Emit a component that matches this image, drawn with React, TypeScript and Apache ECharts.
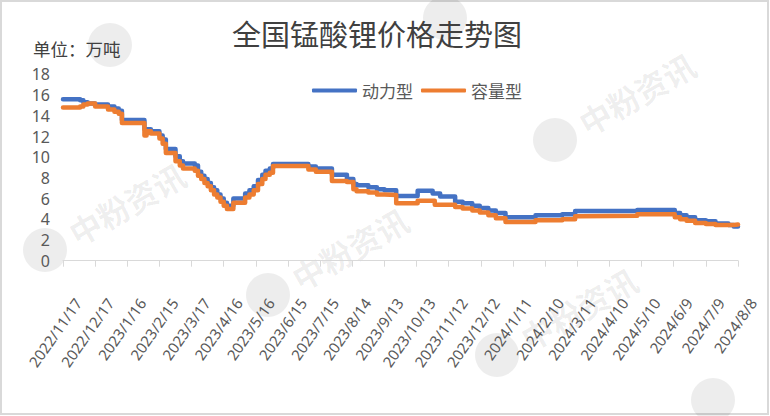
import React, { useEffect, useRef } from 'react';
import * as echarts from 'echarts';

const chartTitle = '全国锰酸锂价格走势图';
const unitLabel = '单位：万吨';
const seriesNames = ['动力型', '容量型'];

const tickLabels = [
  '2022/11/17', '2022/12/17', '2023/1/16', '2023/2/15', '2023/3/17', '2023/4/16',
  '2023/5/16', '2023/6/15', '2023/7/15', '2023/8/14', '2023/9/13', '2023/10/13',
  '2023/11/12', '2023/12/12', '2024/1/11', '2024/2/10', '2024/3/11', '2024/4/10',
  '2024/5/10', '2024/6/9', '2024/7/9', '2024/8/8',
];

// dates on which the price changed (value holds until the next date)
const changeDates = [
  '2022-11-17', '2022-12-03', '2022-12-06', '2022-12-10', '2022-12-17', '2022-12-29',
  '2023-01-04', '2023-01-08', '2023-01-11', '2023-02-01', '2023-02-03', '2023-02-07',
  '2023-02-15', '2023-02-18', '2023-02-21', '2023-03-02', '2023-03-06', '2023-03-09',
  '2023-03-20', '2023-03-23', '2023-03-26', '2023-03-29', '2023-04-01', '2023-04-04',
  '2023-04-07', '2023-04-10', '2023-04-13', '2023-04-16', '2023-04-19', '2023-04-25',
  '2023-05-06', '2023-05-10', '2023-05-14', '2023-05-18', '2023-05-22', '2023-05-25',
  '2023-05-29', '2023-06-01', '2023-07-04', '2023-07-11', '2023-07-26', '2023-08-09',
  '2023-08-15', '2023-08-18', '2023-08-29', '2023-09-06', '2023-09-13', '2023-09-24',
  '2023-10-14', '2023-10-28', '2023-10-30', '2023-11-04', '2023-11-18', '2023-11-25',
  '2023-12-04', '2023-12-11', '2023-12-19', '2023-12-26', '2024-01-04', '2024-02-01',
  '2024-02-26', '2024-03-09', '2024-03-14', '2024-05-06', '2024-06-06', '2024-06-10',
  '2024-06-15', '2024-06-21', '2024-06-29', '2024-07-09', '2024-07-18', '2024-07-30',
  '2024-08-04', '2024-08-08',
];

// 动力型 (万元/吨)
const powerValues = [
  15.6, 15.5, 15.3, 15.2, 15.1, 14.9,
  14.7, 14.5, 13.6, 12.7, 12.7, 12.5,
  12.1, 11.7, 10.8, 10.1, 9.6, 9.4,
  9.2, 8.6, 8.2, 7.9, 7.5, 7.1,
  6.8, 6.4, 6.0, 5.6, 5.3, 6.0,
  6.5, 6.8, 7.2, 7.8, 8.3, 8.7,
  8.9, 9.35, 9.1, 8.9, 8.3, 7.9,
  7.4, 7.3, 7.1, 6.9, 6.8, 6.25,
  6.75, 6.5, 6.5, 6.2, 5.7, 5.55,
  5.3, 5.1, 4.85, 4.6, 4.2, 4.4,
  4.5, 4.8, 4.8, 4.9, 4.9, 4.6,
  4.4, 4.2, 3.9, 3.8, 3.6, 3.45,
  3.3, 3.3,
];

// 容量型 (万元/吨)
const capacityValues = [
  14.8, 14.9, 15.1, 15.2, 14.9, 14.6,
  14.4, 14.2, 13.3, 12.1, 12.5, 12.3,
  11.8, 11.3, 10.4, 9.6, 9.2, 8.9,
  8.7, 8.2, 7.9, 7.5, 7.2, 6.8,
  6.4, 6.1, 5.7, 5.3, 5.0, 5.6,
  6.1, 6.4, 6.8, 7.4, 7.9, 8.3,
  8.5, 9.15, 8.8, 8.6, 7.7, 7.6,
  6.9, 6.7, 6.6, 6.4, 6.35, 5.55,
  5.8, 5.8, 5.4, 5.4, 5.2, 5.05,
  4.85, 4.65, 4.4, 4.1, 3.75, 3.9,
  4.0, 4.3, 4.35, 4.5, 4.5, 4.2,
  4.0, 3.85, 3.65, 3.55, 3.45, 3.45,
  3.5, 3.5,
];

const startDate = Date.UTC(2022, 10, 17);
const dayIndex = (s: string) => {
  const [y, m, d] = s.split('-').map(Number);
  return Math.round((Date.UTC(y, m - 1, d) - startDate) / 86400000);
};

// watermark logos: those with text fully inside the picture carry the text
const watermarks = [
  { x: 110, y: 45, text: false },
  { x: 445, y: 18, text: false },
  { x: 45, y: 250, text: true },
  { x: 268, y: 295, text: true },
  { x: 555, y: 140, text: true },
  { x: 497, y: 355, text: true },
  { x: 713, y: 400, text: false },
];

export default function App() {
  const ref = useRef<HTMLDivElement>(null);

  useEffect(() => {
    if (!ref.current) return;
    const chart = echarts.init(ref.current, null, { renderer: 'svg' });

    const wm: any[] = [];
    watermarks.forEach((w) => {
      const children: any[] = [
        { type: 'circle', shape: { cx: 0, cy: 0, r: 22 }, style: { fill: 'rgba(0,0,0,0.07)' } },
      ];
      if (w.text) {
        children.push({
          type: 'text',
          x: 30,
          y: 0,
          style: {
            text: '中粉资讯',
            fontSize: 32,
            fontWeight: 'bold',
            fontFamily: 'Noto Sans CJK SC',
            fill: 'rgba(0,0,0,0.07)',
            verticalAlign: 'middle',
            align: 'left',
          },
        });
      }
      wm.push({
        type: 'group',
        x: w.x,
        y: w.y,
        rotation: 0.52,
        silent: true,
        z: 1,
        children,
      });
    });

    const option: any = {
      animation: false,
      backgroundColor: '#ffffff',
      textStyle: { fontFamily: 'Noto Sans, Noto Sans CJK SC' },
      graphic: [
        {
          type: 'rect',
          shape: { x: 1, y: 1, width: 767, height: 413 },
          style: { fill: 'none', stroke: '#D9D9D9', lineWidth: 2 },
          silent: true,
        },
        ...wm,
        {
          type: 'text',
          x: 377,
          y: 33,
          style: {
            text: chartTitle,
            fontSize: 29,
            fontFamily: 'Noto Sans CJK SC',
            fill: '#404040',
            align: 'center',
            verticalAlign: 'middle',
          },
        },
        {
          type: 'text',
          x: 33,
          y: 48,
          style: {
            text: unitLabel,
            fontSize: 17.5,
            fontFamily: 'Noto Sans CJK SC',
            fill: '#404040',
            align: 'left',
            verticalAlign: 'middle',
          },
        },
      ],
      legend: {
        left: 307,
        top: 77,
        itemWidth: 45,
        itemHeight: 4,
        itemGap: 8,
        icon: 'roundRect',
        textStyle: { fontSize: 17, color: '#595959', fontFamily: 'Noto Sans CJK SC' },
        data: seriesNames,
      },
      grid: [
        { left: 63, right: 32, top: 74.4, bottom: 155.3 },
        { left: 78, right: 17, top: 74.4, bottom: 155.3 },
      ],
      xAxis: [
        {
          type: 'value',
          gridIndex: 0,
          min: 0,
          max: 630,
          interval: 30,
          splitLine: { show: false },
          axisLine: { show: true, lineStyle: { color: '#D9D9D9', width: 1 } },
          axisTick: { show: true, length: 6, lineStyle: { color: '#D9D9D9' } },
          axisLabel: { show: false },
        },
        {
          type: 'value',
          gridIndex: 1,
          min: 0,
          max: 630,
          interval: 30,
          splitLine: { show: false },
          axisLine: { show: false },
          axisTick: { show: false },
          axisLabel: {
            show: true,
            rotate: 55,
            margin: 39,
            fontSize: 15,
            color: '#595959',
            fontFamily: 'Noto Sans',
            showMinLabel: true,
            showMaxLabel: true,
            formatter: (v: number) => tickLabels[Math.round(v / 30)] ?? '',
          },
        },
      ],
      yAxis: [
        {
          type: 'value',
          gridIndex: 0,
          min: 0,
          max: 18,
          interval: 2,
          splitLine: { show: false },
          axisLine: { show: false },
          axisTick: { show: false },
          axisLabel: { margin: 13, fontSize: 16, color: '#595959', fontFamily: 'Noto Sans' },
        },
        { type: 'value', gridIndex: 1, min: 0, max: 18, show: false },
      ],
      series: [
        {
          name: seriesNames[0],
          type: 'line',
          xAxisIndex: 0,
          yAxisIndex: 0,
          step: 'end',
          symbol: 'none',
          z: 3,
          itemStyle: { color: '#4472C4' },
          lineStyle: { color: '#4472C4', width: 4.5, cap: 'round', join: 'round' },
          data: changeDates.map((d, i) => [dayIndex(d), powerValues[i]]),
        },
        {
          name: seriesNames[1],
          type: 'line',
          xAxisIndex: 0,
          yAxisIndex: 0,
          step: 'end',
          symbol: 'none',
          z: 4,
          itemStyle: { color: '#ED7D31' },
          lineStyle: { color: '#ED7D31', width: 4.5, cap: 'round', join: 'round' },
          data: changeDates.map((d, i) => [dayIndex(d), capacityValues[i]]),
        },
      ],
    };

    chart.setOption(option);
    return () => chart.dispose();
  }, []);

  return (
    <div
      ref={ref}
      style={{ position: 'fixed', left: 0, top: 0, width: 770, height: 416, background: '#fff' }}
    />
  );
}
